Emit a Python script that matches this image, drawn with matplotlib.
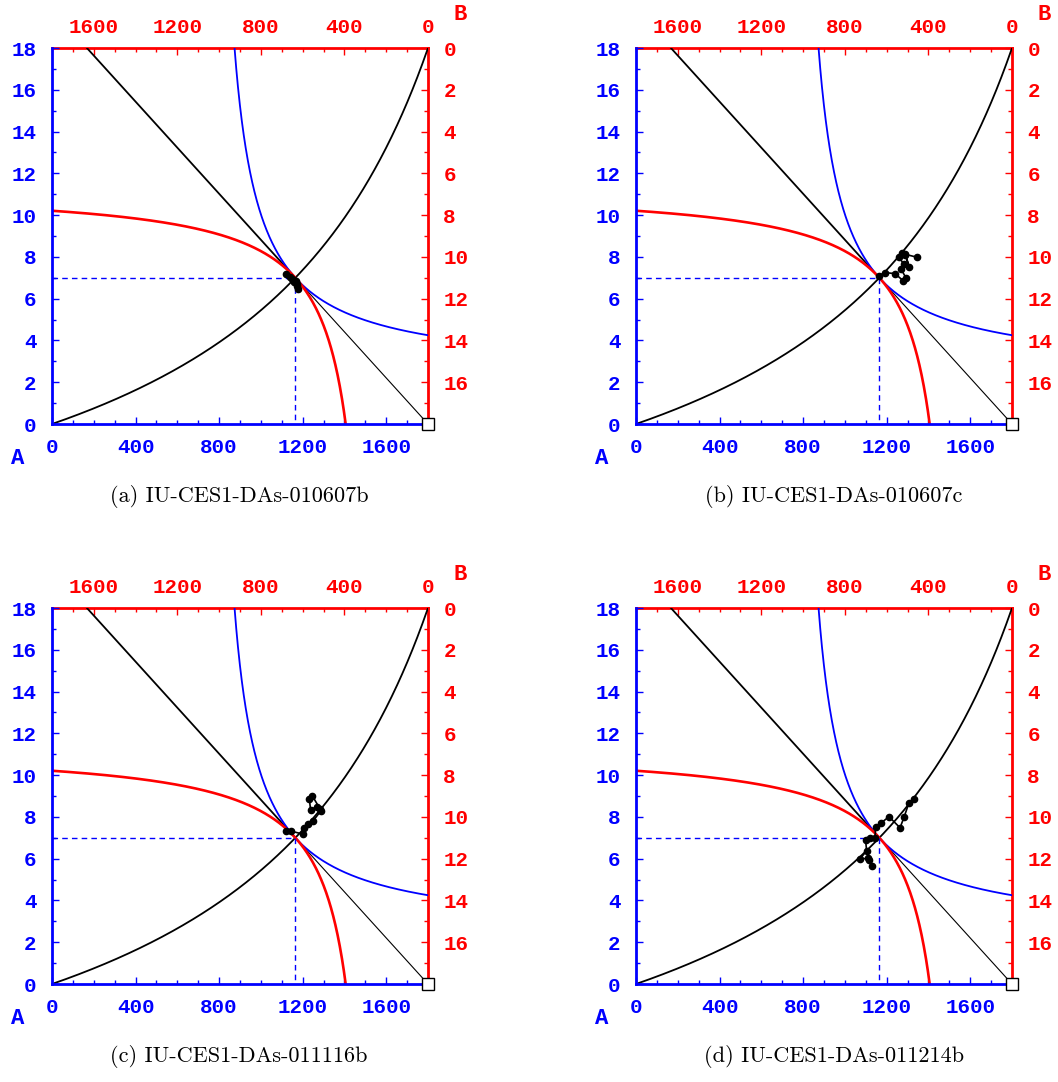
import numpy as np
import matplotlib.pyplot as plt
from matplotlib.ticker import MultipleLocator, FixedLocator

# box size (total endowment of good x and good y)
X_TOTAL = 1800
Y_TOTAL = 18
# competitive equilibrium allocation for A
eq_x = 1165
eq_y = 7.0
# CES exponent shared by both traders
rho = -1.0

titles = ["(a) IU-CES1-DAs-010607b", "(b) IU-CES1-DAs-010607c",
          "(c) IU-CES1-DAs-011116b", "(d) IU-CES1-DAs-011214b"]

# traded allocations of A, one path per session
path_a_x = [1120, 1140, 1150, 1160, 1168, 1158, 1172, 1180, 1175]
path_a_y = [7.17, 7.02, 6.95, 6.80, 6.85, 6.90, 6.60, 6.48, 6.70]

path_b_x = [1164, 1190, 1240, 1280, 1292, 1270, 1282, 1258, 1275, 1288, 1308, 1290, 1347]
path_b_y = [7.10, 7.25, 7.20, 6.85, 7.00, 7.40, 7.65, 8.00, 8.18, 8.10, 7.52, 8.12, 7.98]

path_c_x = [1119, 1143, 1200, 1208, 1227, 1251, 1288, 1246, 1232, 1238, 1267, 1285]
path_c_y = [7.34, 7.32, 7.18, 7.45, 7.66, 7.82, 8.30, 9.01, 8.84, 8.33, 8.49, 8.40]

path_d_x = [1331, 1307, 1283, 1264, 1211, 1171, 1147, 1144, 1120, 1099, 1104, 1072, 1109, 1117, 1128]
path_d_y = [8.84, 8.68, 7.98, 7.48, 8.01, 7.69, 7.50, 7.00, 6.97, 6.89, 6.38, 5.98, 6.02, 5.94, 5.65]

paths = [(path_a_x, path_a_y), (path_b_x, path_b_y),
         (path_c_x, path_c_y), (path_d_x, path_d_y)]

x_ticks = [0, 400, 800, 1200, 1600]
y_ticks = list(range(0, 19, 2))
b_y_ticks = list(range(0, 17, 2))

plt.rcParams['font.family'] = ['Liberation Mono', 'DejaVu Sans']
plt.rcParams['font.weight'] = 'bold'

# --- curves (normalised units, then scaled to the box) ---
XA, YA = eq_x / X_TOTAL, eq_y / Y_TOTAL
XB, YB = 1 - XA, 1 - YA
price = YA / (1 - XA)                     # slope of budget line through endowment (1, 0)
ra = price / (YA / XA) ** (1 - rho)
rb = price / (YB / XB) ** (1 - rho)
a = ra / (1 + ra)
b = rb / (1 + rb)

def indiff(w, X0, Y0):
    K = w * X0 ** rho + (1 - w) * Y0 ** rho
    xmin = ((K - (1 - w)) / w) ** (1 / rho)
    xs = np.linspace(xmin, 1, 800)
    ys = ((K - w * xs ** rho) / (1 - w)) ** (1 / rho)
    return xs, ys

ia_x, ia_y = indiff(a, XA, YA)
ib_x, ib_y = indiff(b, XB, YB)

k = (rb / ra) ** (1 / (1 - rho))
u = np.linspace(0, 1, 600)
cc_y = k * u / (1 - u + k * u)

x_top = X_TOTAL - Y_TOTAL * (X_TOTAL - eq_x) / eq_y

fig = plt.figure(figsize=(10.58, 10.82), dpi=100)
W, H = 1058, 1082
lefts = [52, 636, 52, 636]
tops = [48, 48, 608, 608]
cap_x = [239, 834, 239, 834]

for i in range(4):
    L, T = lefts[i], tops[i]
    ax = fig.add_axes([L / W, 1 - (T + 376) / H, 376 / W, 376 / H])
    ax.set_xlim(0, X_TOTAL)
    ax.set_ylim(0, Y_TOTAL)

    ax.plot(u * X_TOTAL, cc_y * Y_TOTAL, color='black', lw=1.3)
    ax.plot([x_top, eq_x], [Y_TOTAL, eq_y], color='black', lw=1.3)
    ax.plot([eq_x, X_TOTAL], [eq_y, 0], color='black', lw=0.8)
    ax.plot(ia_x * X_TOTAL, ia_y * Y_TOTAL, color='blue', lw=1.3)
    ax.plot((1 - ib_x) * X_TOTAL, (1 - ib_y) * Y_TOTAL, color='red', lw=1.9)
    ax.plot([0, eq_x, eq_x], [eq_y, eq_y, 0], color='blue', lw=1.0,
            dashes=(4, 3))
    px, py = paths[i]
    ax.plot(px, py, color='black', lw=1.2, marker='o', ms=4.5)
    ax.plot([X_TOTAL], [0], marker='s', ms=8, mfc='white', mec='black',
            mew=1, clip_on=False, zorder=10)

    for s in ['left', 'bottom']:
        ax.spines[s].set_color('blue')
        ax.spines[s].set_linewidth(2)
    for s in ['top', 'right']:
        ax.spines[s].set_visible(False)

    ax.xaxis.set_major_locator(FixedLocator(x_ticks))
    ax.xaxis.set_minor_locator(MultipleLocator(100))
    ax.yaxis.set_major_locator(FixedLocator(y_ticks))
    ax.yaxis.set_minor_locator(MultipleLocator(1))
    ax.tick_params(which='both', direction='in', colors='blue', labelsize=15,
                   pad=11, top=False, right=False)
    ax.tick_params(axis='x', pad=10)
    ax.tick_params(which='major', length=5, width=1)
    ax.tick_params(which='minor', length=3, width=1)

    sx = ax.secondary_xaxis('top', functions=(lambda v: X_TOTAL - v, lambda v: X_TOTAL - v))
    sx.xaxis.set_major_locator(FixedLocator(x_ticks))
    sx.xaxis.set_minor_locator(MultipleLocator(100))
    sx.spines['top'].set_color('red')
    sx.spines['top'].set_linewidth(2)
    sx.tick_params(which='both', direction='in', colors='red', labelsize=15, pad=8)
    sx.tick_params(which='major', length=5, width=1)
    sx.tick_params(which='minor', length=3, width=1)

    sy = ax.secondary_yaxis('right', functions=(lambda v: Y_TOTAL - v, lambda v: Y_TOTAL - v))
    sy.yaxis.set_major_locator(FixedLocator(b_y_ticks))
    sy.yaxis.set_minor_locator(MultipleLocator(1))
    sy.spines['right'].set_color('red')
    sy.spines['right'].set_linewidth(2)
    sy.tick_params(which='both', direction='in', colors='red', labelsize=15, pad=11)
    sy.tick_params(which='major', length=5, width=1)
    sy.tick_params(which='minor', length=3, width=1)

    fig.text((L - 34) / W, 1 - (T + 376 + 35) / H, 'A', color='blue',
             fontsize=16, fontweight='bold', ha='center', va='center')
    fig.text((L + 376 + 32) / W, 1 - (T - 33) / H, 'B', color='red',
             fontsize=16, fontweight='bold', ha='center', va='center')
    fig.text(cap_x[i] / W, 1 - (T + 449) / H, titles[i], family='cmr10',
             fontweight='normal', fontsize=16, ha='center', va='center')

fig.savefig('out.png', dpi=100)
